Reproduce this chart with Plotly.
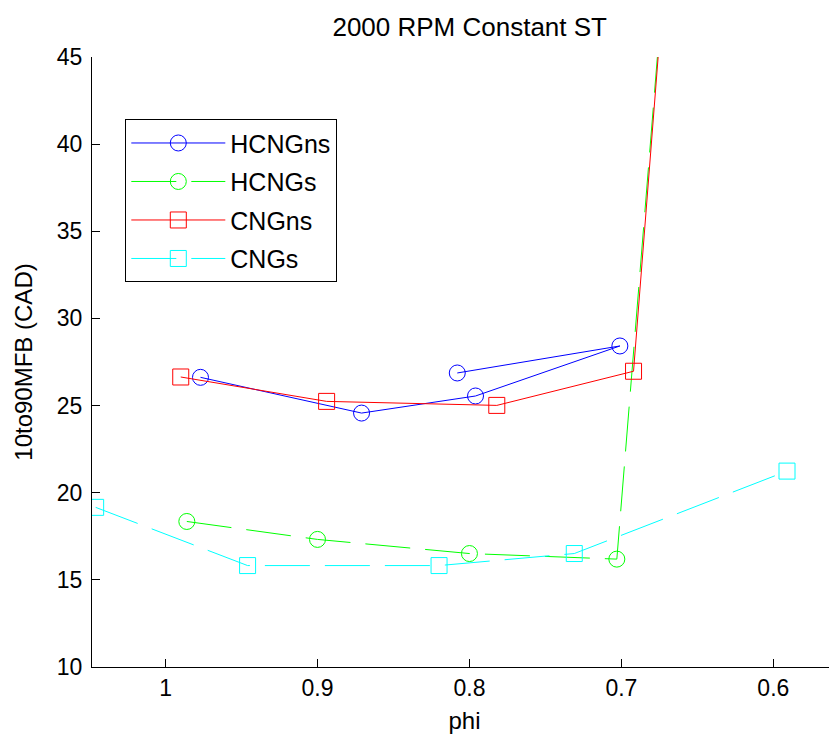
import plotly.graph_objects as go

# Data
phi_hcngns = [0.977, 0.871, 0.796, 0.701, 0.808]
cad_hcngns = [26.62, 24.57, 25.55, 28.42, 26.87]

phi_hcngs = [0.986, 0.900, 0.800, 0.703, 0.600]
cad_hcngs = [18.35, 17.32, 16.51, 16.19, 127.4]

phi_cngns = [0.990, 0.894, 0.782, 0.692, 0.600]
cad_cngns = [26.64, 25.24, 25.01, 26.97, 129.4]

phi_cngs = [1.046, 0.946, 0.820, 0.731, 0.591]
cad_cngs = [19.16, 15.82, 15.82, 16.51, 21.24]

x_ticks = [1.0, 0.9, 0.8, 0.7, 0.6]
x_ticktext = ["1", "0.9", "0.8", "0.7", "0.6"]
y_ticks = [10, 15, 20, 25, 30, 35, 40, 45]

FONT = "Liberation Sans, Arial, Helvetica, sans-serif"
DASH = "45px,15px"

series = [
    ("HCNGns", phi_hcngns, cad_hcngns, "#0000FF", "circle-open", "solid"),
    ("HCNGs", phi_hcngs, cad_hcngs, "#00FF00", "circle-open", DASH),
    ("CNGns", phi_cngns, cad_cngns, "#FF0000", "square-open", "solid"),
    ("CNGs", phi_cngs, cad_cngs, "#00FFFF", "square-open", DASH),
]

fig = go.Figure()
for name, xs, ys, col, sym, dash in series:
    fig.add_trace(go.Scatter(
        x=xs, y=ys, name=name, mode="lines+markers", legendgroup=name,
        line=dict(color=col, width=1, dash=dash),
        marker=dict(symbol=sym, size=16, color=col, line=dict(color=col, width=1)),
    ))

# page body has an 8px default margin: figure is sized so the plot area
# lands where the reference has it in the 837x734 window
fig.update_layout(
    width=829, height=726,
    margin=dict(l=84, r=0, t=49, b=67),
    paper_bgcolor="white", plot_bgcolor="white",
    font=dict(family=FONT, size=23, color="black"),
    title=dict(text="2000 RPM Constant ST", x=0.507, xref="paper", xanchor="center",
               y=1 - 19 / 726, yref="container", yanchor="middle",
               font=dict(size=26, color="black")),
    showlegend=True,
    legend=dict(x=0.0447, y=0.898, xanchor="left", yanchor="top",
                bgcolor="white", bordercolor="black", borderwidth=1,
                font=dict(size=25), tracegroupgap=3, itemwidth=94),
    xaxis=dict(range=[1.0484, 0.5581], tickvals=x_ticks, ticktext=x_ticktext,
               showline=True, linecolor="black", linewidth=1, mirror=False,
               ticks="inside", ticklen=8, tickcolor="black", tickwidth=1,
               showgrid=False, zeroline=False, automargin=False,
               title=dict(text="phi", standoff=14, font=dict(size=24))),
    yaxis=dict(range=[10, 45], tickvals=y_ticks,
               showline=True, linecolor="black", linewidth=1, mirror=False,
               ticks="inside", ticklen=8, tickcolor="black", tickwidth=1,
               ticklabelstandoff=4,
               showgrid=False, zeroline=False, automargin=False,
               title=dict(text="10to90MFB (CAD)", standoff=17, font=dict(size=24))),
)

fig.write_html("out.html")
